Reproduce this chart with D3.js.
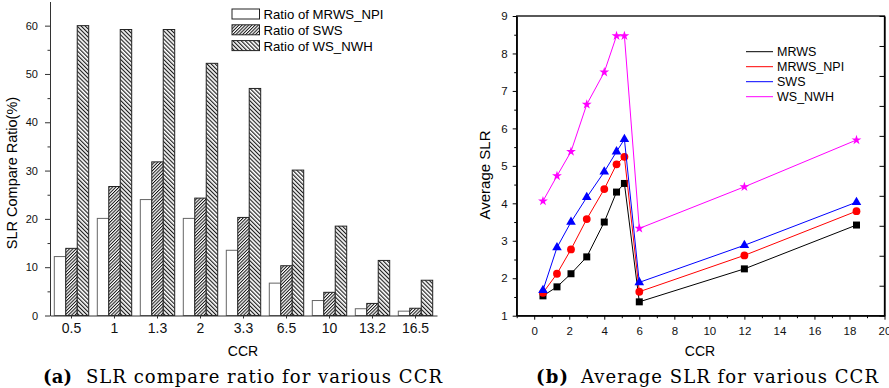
<html>
  <meta charset="utf-8" />
  <script src="https://d3js.org/d3.v7.min.js"></script>
  <style>
    body { margin: 0; background: #fff; }
    svg { display: block; font-family: "Liberation Sans", Arial, sans-serif; }
    .caption { font-family: "DejaVu Serif", "Liberation Serif", serif; font-size: 18px; }
  </style>
  <body>
    <svg width="889" height="388" id="fig">
      <defs>
        <pattern id="hatchSWS" patternUnits="userSpaceOnUse" width="2.3" height="6" patternTransform="rotate(45)">
          <rect width="2.3" height="6" fill="#fff"></rect>
          <line x1="0.5" y1="0" x2="0.5" y2="6" stroke="#111" stroke-width="1"></line>
        </pattern>
        <pattern id="hatchNWH" patternUnits="userSpaceOnUse" width="2.9" height="6" patternTransform="rotate(-45)">
          <rect width="2.9" height="6" fill="#fff"></rect>
          <line x1="0.6" y1="0" x2="0.6" y2="6" stroke="#111" stroke-width="1.1"></line>
        </pattern>
      </defs>
    </svg>

    <script>
      // (a) compare ratio per CCR
      const ccrLabels = ["0.5", "1", "1.3", "2", "3.3", "6.5", "10", "13.2", "16.5"];
      const ratioMRWSNPI = [12.2, 20.1, 24.0, 20.1, 13.5, 6.7, 3.1, 1.4, 0.9];
      const ratioSWS = [13.9, 26.7, 31.8, 24.3, 20.3, 10.3, 4.8, 2.5, 1.5];
      const ratioWSNWH = [60.0, 59.2, 59.2, 52.2, 47.0, 30.1, 18.5, 11.4, 7.3];
      const barNames = ["Ratio of MRWS_NPI", "Ratio of SWS", "Ratio of WS_NWH"];
      const barTicks = [0, 10, 20, 30, 40, 50, 60];

      // (b) average SLR per CCR
      const ccrValues = [0.5, 1.3, 2.1, 3, 4, 4.7, 5.15, 6, 12, 18.4];
      const slrMRWS = [1.53, 1.77, 2.12, 2.57, 3.5, 4.3, 4.53, 1.37, 2.25, 3.42];
      const slrMRWSNPI = [1.61, 2.12, 2.77, 3.58, 4.38, 5.04, 5.24, 1.64, 2.61, 3.79];
      const slrSWS = [1.68, 2.82, 3.5, 4.16, 4.84, 5.38, 5.71, 1.89, 2.88, 4.03];
      const slrWSNWH = [4.06, 4.73, 5.38, 6.64, 7.5, 8.47, 8.47, 3.33, 4.44, 5.69];
      const lineNames = ["MRWS", "MRWS_NPI", "SWS", "WS_NWH"];

      const svg = d3.select("#fig");

      function barChart() {
        const xScale = d3
          .scaleBand()
          .domain(ccrLabels)
          .range([50, 437])
          .paddingInner(0.2)
          .paddingOuter(0.1);
        const xInner = d3
          .scaleBand()
          .domain(barNames)
          .range([0, xScale.bandwidth()]);
        const yScale = d3.scaleLinear().domain([0, 65]).range([315.5, 1.5]);

        const fills = d3
          .scaleOrdinal()
          .domain(barNames)
          .range(["#fff", "url(#hatchSWS)", "url(#hatchNWH)"]);

        const rows = ccrLabels.map((c, i) => ({
          ccr: c,
          values: [ratioMRWSNPI[i], ratioSWS[i], ratioWSNWH[i]],
        }));

        const chart = svg.append("g");

        chart
          .selectAll("g.group")
          .data(rows)
          .enter()
          .append("g")
          .attr("class", "group")
          .attr("transform", (d) => `translate(${xScale(d.ccr)},0)`)
          .selectAll("rect")
          .data((d) => d.values.map((v, k) => ({ key: barNames[k], value: v })))
          .enter()
          .append("rect")
          .attr("x", (d) => xInner(d.key))
          .attr("y", (d) => yScale(d.value))
          .attr("width", xInner.bandwidth())
          .attr("height", (d) => yScale(0) - yScale(d.value))
          .attr("fill", (d) => fills(d.key))
          .attr("stroke", (d) => (d.key === barNames[0] ? "#666" : "#222"))
          .attr("stroke-width", 1);

        // minor ticks first, then the labelled axis
        chart
          .append("g")
          .attr("transform", "translate(50,0)")
          .call(
            d3.axisLeft(yScale).tickValues(d3.range(5, 60, 10)).tickSize(2.5).tickFormat("")
          )
          .call((g) => g.select(".domain").remove());

        chart
          .append("g")
          .attr("transform", "translate(50,0)")
          .call(d3.axisLeft(yScale).tickValues(barTicks).tickSize(5).tickSizeOuter(0).tickPadding(7))
          .attr("font-size", 11)
          .attr("font-family", null);

        chart
          .append("g")
          .attr("transform", `translate(0,${yScale(0)})`)
          .call(d3.axisBottom(xScale).tickSize(3).tickSizeOuter(0).tickPadding(5))
          .attr("font-size", 14)
          .attr("font-family", null);

        chart.selectAll(".domain, .tick line").attr("stroke", "#333");
        chart.selectAll(".tick text").attr("fill", "#111");

        chart
          .append("text")
          .attr("transform", "translate(17,173) rotate(-90)")
          .attr("text-anchor", "middle")
          .attr("font-size", 14.5)
          .text("SLR Compare Ratio(%)");

        chart
          .append("text")
          .attr("x", 243)
          .attr("y", 356)
          .attr("text-anchor", "middle")
          .attr("font-size", 14)
          .text("CCR");

        // legend
        const legend = chart
          .selectAll("g.legend")
          .data(barNames)
          .enter()
          .append("g")
          .attr("class", "legend")
          .attr("transform", (d, i) => `translate(232,${9 + i * 15.8})`);
        legend
          .append("rect")
          .attr("width", 27.5)
          .attr("height", 10)
          .attr("fill", (d) => fills(d))
          .attr("stroke", "#222");
        legend
          .append("text")
          .attr("x", 31.5)
          .attr("y", 10)
          .attr("font-size", 13.2)
          .text((d) => d);
      }

      function lineChart() {
        const x0 = 516.7, x1 = 884.5, y0 = 315.7, y1 = 16;
        const xScale = d3.scaleLinear().domain([-1, 20]).range([x0, x1]);
        const yScale = d3.scaleLinear().domain([1, 9]).range([y0, y1]);
        const rightScale = d3.scaleLinear().domain([0, 10]).range([y0, y1]);

        const colors = d3
          .scaleOrdinal()
          .domain(lineNames)
          .range(["#000000", "#ff0000", "#0000ff", "#ff00ff"]);
        const shapes = d3
          .scaleOrdinal()
          .domain(lineNames)
          .range([
            d3.symbol(d3.symbolSquare, 49),
            d3.symbol(d3.symbolCircle, 48),
            d3.symbol(d3.symbolTriangle, 40),
            d3.symbol(d3.symbolStar, 30),
          ]);

        const seriesValues = [slrMRWS, slrMRWSNPI, slrSWS, slrWSNWH];
        const series = lineNames.map((name, k) => ({
          name: name,
          points: ccrValues.map((c, i) => [c, seriesValues[k][i]]),
        }));

        const chart = svg.append("g");

        // axes
        chart
          .append("g")
          .attr("transform", `translate(0,${y0})`)
          .call(
            d3.axisBottom(xScale).tickValues(d3.range(-1, 20, 2)).tickSize(2.5).tickFormat("")
          )
          .call((g) => g.select(".domain").remove());
        chart
          .append("g")
          .attr("transform", `translate(0,${y0})`)
          .call(
            d3.axisBottom(xScale).tickValues(d3.range(0, 21, 2)).tickSize(4).tickSizeOuter(0).tickPadding(7)
          )
          .attr("font-size", 11.5)
          .attr("font-family", null);

        chart
          .append("g")
          .attr("transform", `translate(${x0},0)`)
          .call(
            d3.axisLeft(yScale).tickValues(d3.range(1.5, 9, 1)).tickSize(2.5).tickFormat("")
          )
          .call((g) => g.select(".domain").remove());
        chart
          .append("g")
          .attr("transform", `translate(${x0},0)`)
          .call(d3.axisLeft(yScale).ticks(8).tickSize(4).tickSizeOuter(0).tickPadding(5))
          .attr("font-size", 11.5)
          .attr("font-family", null);

        chart
          .append("g")
          .attr("transform", `translate(${x1},0)`)
          .call(d3.axisRight(rightScale).ticks(10).tickSizeInner(-5).tickSizeOuter(0).tickFormat(""));

        chart
          .append("rect")
          .attr("x", x0)
          .attr("y", y1)
          .attr("width", x1 - x0)
          .attr("height", y0 - y1)
          .attr("fill", "none")
          .attr("stroke", "#000")
          .attr("stroke-width", 1.3);

        chart.selectAll(".domain").attr("stroke-width", 1.3);
        chart.selectAll(".tick text").attr("fill", "#111");

        // lines and markers
        const line = d3
          .line()
          .x((p) => xScale(p[0]))
          .y((p) => yScale(p[1]));

        const groups = chart
          .selectAll("g.series")
          .data(series)
          .enter()
          .append("g")
          .attr("class", "series");
        groups
          .append("path")
          .attr("d", (d) => line(d.points))
          .attr("fill", "none")
          .attr("stroke", (d) => colors(d.name))
          .attr("stroke-width", 1);
        groups.each(function (d) {
          d3.select(this)
            .selectAll("path.mark")
            .data(d.points)
            .enter()
            .append("path")
            .attr("class", "mark")
            .attr("d", shapes(d.name))
            .attr("transform", (p) => `translate(${xScale(p[0])},${yScale(p[1])})`)
            .attr("fill", colors(d.name));
        });

        chart
          .append("text")
          .attr("transform", "translate(490,175) rotate(-90)")
          .attr("text-anchor", "middle")
          .attr("font-size", 15)
          .text("Average SLR");

        chart
          .append("text")
          .attr("x", 700)
          .attr("y", 356)
          .attr("text-anchor", "middle")
          .attr("font-size", 14)
          .text("CCR");

        // legend
        const legend = chart
          .selectAll("g.legend")
          .data(lineNames)
          .enter()
          .append("g")
          .attr("class", "legend")
          .attr("transform", (d, i) => `translate(746,${51.7 + i * 15})`);
        legend
          .append("line")
          .attr("x2", 27)
          .attr("stroke", (d) => colors(d));
        legend
          .append("path")
          .attr("d", (d) => shapes(d))
          .attr("transform", "translate(13.5,0)")
          .attr("fill", (d) => colors(d));
        legend
          .append("text")
          .attr("x", 31)
          .attr("y", 4.6)
          .attr("font-size", 12.5)
          .text((d) => d);
      }

      function captions() {
        const cap = svg.append("g").attr("class", "caption");
        cap.append("text").attr("x", 43).attr("y", 383).attr("font-weight", "bold")
          .attr("textLength", 29).text("(a)");
        cap.append("text").attr("x", 86).attr("y", 383)
          .attr("textLength", 356).text("SLR compare ratio for various CCR");
        cap.append("text").attr("x", 536).attr("y", 383).attr("font-weight", "bold")
          .attr("textLength", 32).text("(b)");
        cap.append("text").attr("x", 581).attr("y", 383)
          .attr("textLength", 297).text("Average SLR for various CCR");
      }

      barChart();
      lineChart();
      captions();
    </script>
  </body>
</html>
